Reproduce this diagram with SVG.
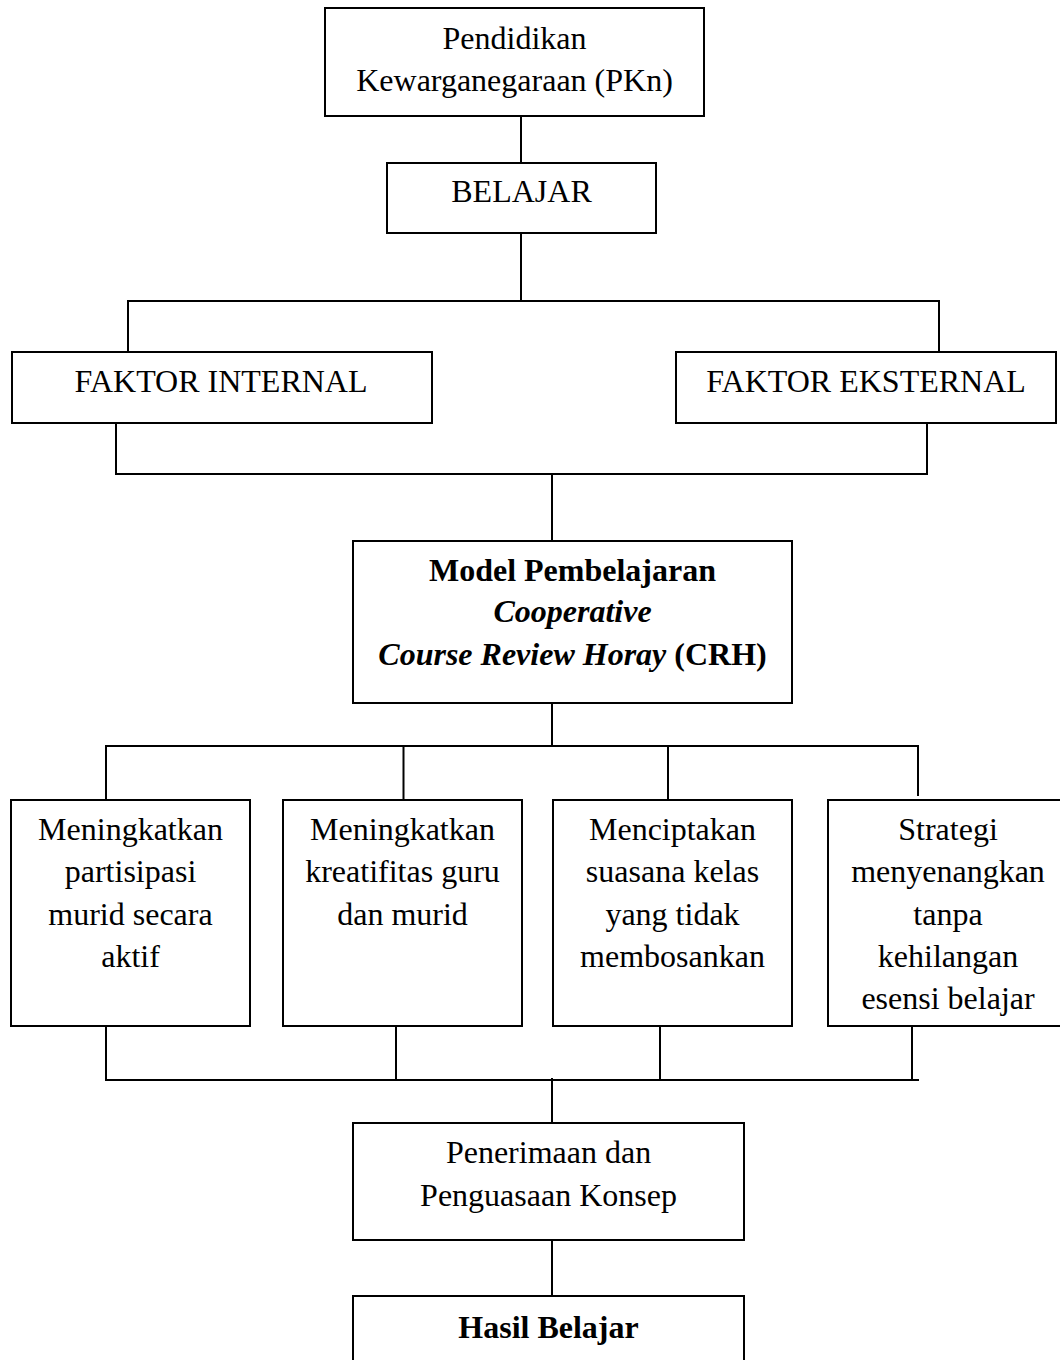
<svg xmlns="http://www.w3.org/2000/svg" width="1060" height="1360" viewBox="0 0 1060 1360">
<style>
rect{fill:#fff;stroke:#000;stroke-width:2}
line{stroke:#000;stroke-width:2}
text{font-family:"Liberation Serif","Times New Roman",serif;font-size:32px;fill:#000;text-anchor:middle}
.b{font-weight:bold}
.bi{font-weight:bold;font-style:italic}
</style>
<rect x="0" y="0" width="1060" height="1360" style="fill:#fff;stroke:none"/>
<g id="connectors">
<line x1="521" y1="116" x2="521" y2="163"/>
<line x1="521" y1="233" x2="521" y2="301"/>
<line x1="127" y1="301" x2="940" y2="301"/>
<line x1="128" y1="301" x2="128" y2="352"/>
<line x1="939" y1="301" x2="939" y2="352"/>
<line x1="116" y1="423" x2="116" y2="474"/>
<line x1="927" y1="423" x2="927" y2="474"/>
<line x1="115" y1="474" x2="928" y2="474"/>
<line x1="552" y1="474" x2="552" y2="541"/>
<line x1="552" y1="703" x2="552" y2="746"/>
<line x1="105" y1="746" x2="919" y2="746"/>
<line x1="106" y1="746" x2="106" y2="800"/>
<line x1="403.5" y1="746" x2="403.5" y2="800"/>
<line x1="668" y1="746" x2="668" y2="800"/>
<line x1="918" y1="746" x2="918" y2="796"/>
<line x1="106" y1="1026" x2="106" y2="1080"/>
<line x1="396" y1="1026" x2="396" y2="1080"/>
<line x1="660" y1="1026" x2="660" y2="1080"/>
<line x1="912" y1="1026" x2="912" y2="1080"/>
<line x1="105" y1="1080" x2="919" y2="1080"/>
<line x1="552" y1="1078" x2="552" y2="1123"/>
<line x1="552" y1="1240" x2="552" y2="1296"/>
</g>
<g id="pkn">
<rect x="325" y="8" width="379" height="108"/>
<text x="514.5" y="49">Pendidikan</text>
<text x="514.5" y="91">Kewarganegaraan (PKn)</text>
</g>
<g id="belajar">
<rect x="387" y="163" width="269" height="70"/>
<text x="521.5" y="202">BELAJAR</text>
</g>
<g id="faktor-internal">
<rect x="12" y="352" width="420" height="71"/>
<text x="221" y="392">FAKTOR INTERNAL</text>
</g>
<g id="faktor-eksternal">
<rect x="676" y="352" width="380" height="71"/>
<text x="866" y="392">FAKTOR EKSTERNAL</text>
</g>
<g id="model">
<rect x="353" y="541" width="439" height="162"/>
<text x="572.5" y="581" class="b">Model Pembelajaran</text>
<text x="572.5" y="622" class="bi">Cooperative</text>
<text x="572.5" y="665" class="b"><tspan class="bi">Course Review Horay</tspan> (CRH)</text>
</g>
<g id="partisipasi">
<rect x="11" y="800" width="239" height="226"/>
<text x="130.5" y="840">Meningkatkan</text>
<text x="130.5" y="882">partisipasi</text>
<text x="130.5" y="925">murid secara</text>
<text x="130.5" y="967">aktif</text>
</g>
<g id="kreatifitas">
<rect x="283" y="800" width="239" height="226"/>
<text x="402.5" y="840">Meningkatkan</text>
<text x="402.5" y="882">kreatifitas guru</text>
<text x="402.5" y="925">dan murid</text>
</g>
<g id="suasana">
<rect x="553" y="800" width="239" height="226"/>
<text x="672.5" y="840">Menciptakan</text>
<text x="672.5" y="882">suasana kelas</text>
<text x="672.5" y="925">yang tidak</text>
<text x="672.5" y="967">membosankan</text>
</g>
<g id="strategi">
<rect x="828" y="800" width="240" height="226"/>
<text x="948" y="840">Strategi</text>
<text x="948" y="882">menyenangkan</text>
<text x="948" y="925">tanpa</text>
<text x="948" y="967">kehilangan</text>
<text x="948" y="1009">esensi belajar</text>
</g>
<g id="penerimaan">
<rect x="353" y="1123" width="391" height="117"/>
<text x="548.5" y="1163">Penerimaan dan</text>
<text x="548.5" y="1206">Penguasaan Konsep</text>
</g>
<g id="hasil">
<rect x="353" y="1296" width="391" height="80"/>
<text x="548.5" y="1338" class="b">Hasil Belajar</text>
</g>
</svg>
